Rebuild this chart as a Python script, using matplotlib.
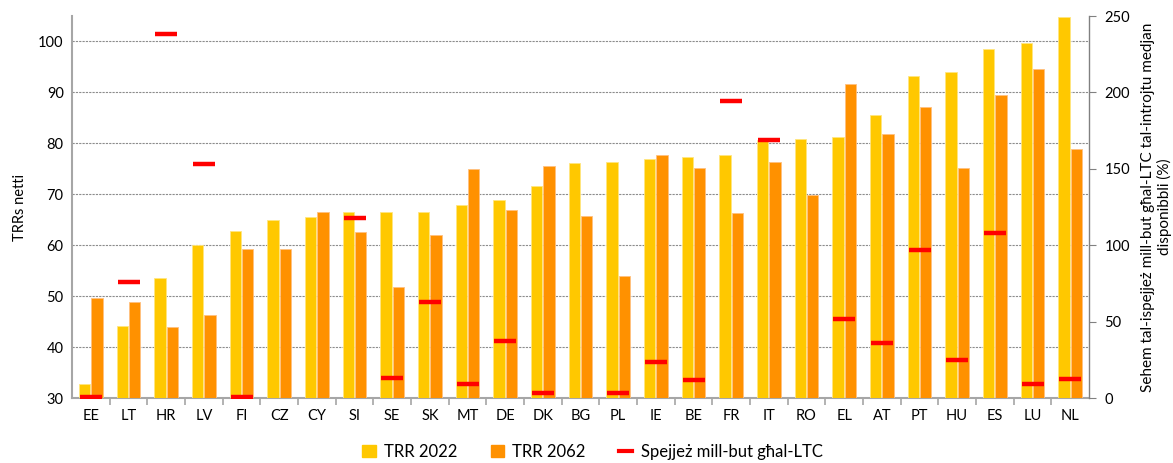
import numpy as np
import matplotlib.pyplot as plt
from matplotlib.lines import Line2D
from matplotlib.patches import Patch

plt.rcParams['font.family'] = ['Lato', 'DejaVu Sans']

# =============================================================================
# Data
# =============================================================================

countries = ['EE', 'LT', 'HR', 'LV', 'FI', 'CZ', 'CY', 'SI', 'SE', 'SK', 'MT',
             'DE', 'DK', 'BG', 'PL', 'IE', 'BE', 'FR', 'IT', 'RO', 'EL', 'AT',
             'PT', 'HU', 'ES', 'LU', 'NL']

# Net theoretical replacement rates (left axis)
trr_2022 = [32.8, 44.1, 53.5, 60.1, 62.7, 65.0, 65.6, 66.5, 66.5, 66.6, 67.9,
            68.9, 71.7, 76.2, 76.3, 77.0, 77.4, 77.8, 80.6, 80.9, 81.2, 85.5,
            93.3, 94.0, 98.6, 99.7, 104.9]
trr_2062 = [49.6, 48.8, 43.9, 46.2, 59.2, 59.2, 66.6, 62.5, 51.7, 62.1, 74.9,
            66.9, 75.6, 65.7, 53.9, 77.7, 75.2, 66.3, 76.4, 69.8, 91.6, 81.8,
            87.1, 75.1, 89.4, 94.6, 78.9]

# Out-of-pocket LTC cost as share of median disposable income (right axis)
# NaN where no value is shown
ltc_cost = [0.5, 75.7, 238.0, 153.0, 0.5, np.nan, np.nan, 118.0, 13.0, 62.7,
            9.0, 37.0, 3.3, np.nan, 3.3, 23.5, 11.7, 194.5, 169.0, np.nan,
            52.0, 36.0, 96.6, 24.8, 107.7, 9.0, 12.4]

# =============================================================================
# Styles
# =============================================================================

c_2022 = '#FFC800'
c_2062 = '#FF9100'
c_ltc = '#FF0000'
grey = '#A6A6A6'

# =============================================================================
# Figure
# =============================================================================

fig = plt.figure(figsize=(11.73, 4.63), dpi=100)
ax = fig.add_axes([72 / 1173, 1 - 398 / 463, (1089 - 72) / 1173, (398 - 16) / 463])
ax2 = ax.twinx()

x = np.arange(len(countries))
w = 0.3

ax.bar(x - w / 2 - 0.01, trr_2022, w, bottom=0, color=c_2022,
       edgecolor='#FFE680', linewidth=0.6, zorder=3)
ax.bar(x + w / 2 + 0.01, trr_2062, w, bottom=0, color=c_2062,
       edgecolor='#FFC080', linewidth=0.6, zorder=3)

ax2.plot(x, ltc_cost, linestyle='none', marker='_', markersize=16,
         markeredgewidth=3.2, color=c_ltc, zorder=4)

# Axes limits
ax.set_xlim(-0.5, len(countries) - 0.5)
ax.set_ylim(30, 105)
ax2.set_ylim(0, 250)
ax.set_yticks(np.arange(30, 101, 10))
ax2.set_yticks(np.arange(0, 251, 50))

# Gridlines
ax.yaxis.grid(True, linestyle=(0, (2, 1)), color='#8C8C8C', linewidth=0.8)
ax.set_axisbelow(True)

# Spines
ax.spines['top'].set_visible(False)
ax2.spines['top'].set_visible(False)
ax2.spines['left'].set_visible(False)
ax2.spines['bottom'].set_visible(False)
ax.spines['right'].set_visible(False)
ax.spines['left'].set_color(grey)
ax.spines['left'].set_linewidth(1.5)
ax.spines['bottom'].set_color(grey)
ax.spines['bottom'].set_linewidth(1.5)
ax2.spines['right'].set_color('#808080')
ax2.spines['right'].set_linewidth(1.0)

# Ticks
ax.set_xticks(x)
ax.set_xticklabels(countries, fontsize=10.5)
ax.set_xticks(x[:-1] + 0.5, minor=True)
ax.tick_params(axis='x', which='major', length=0, pad=8)
ax.tick_params(axis='x', which='minor', length=5, color=grey, width=1.2)
ax.tick_params(axis='y', length=0, labelsize=10.5, pad=6)
ax2.tick_params(axis='y', length=5, color='#808080', labelsize=10.5, pad=6)

# Axis labels
ax.set_ylabel('TRRs netti', fontsize=10.5, labelpad=8)
ax2.set_ylabel('Sehem tal-ispejjeż mill-but għal-LTC tal-introjtu medjan\n'
               'disponibbli (%)', fontsize=11, labelpad=8)

# Legend
handles = [Patch(color=c_2022, label='TRR 2022'),
           Patch(color=c_2062, label='TRR 2062'),
           Line2D([], [], color=c_ltc, linewidth=3, label='Spejjeż mill-but għal-LTC')]
fig.legend(handles=handles, loc='center', bbox_to_anchor=(0.505, 0.024),
           ncol=3, frameon=False, fontsize=12, handlelength=0.8,
           handleheight=0.8, columnspacing=2.0, handletextpad=0.5)

fig.savefig('out.png', dpi=100)
